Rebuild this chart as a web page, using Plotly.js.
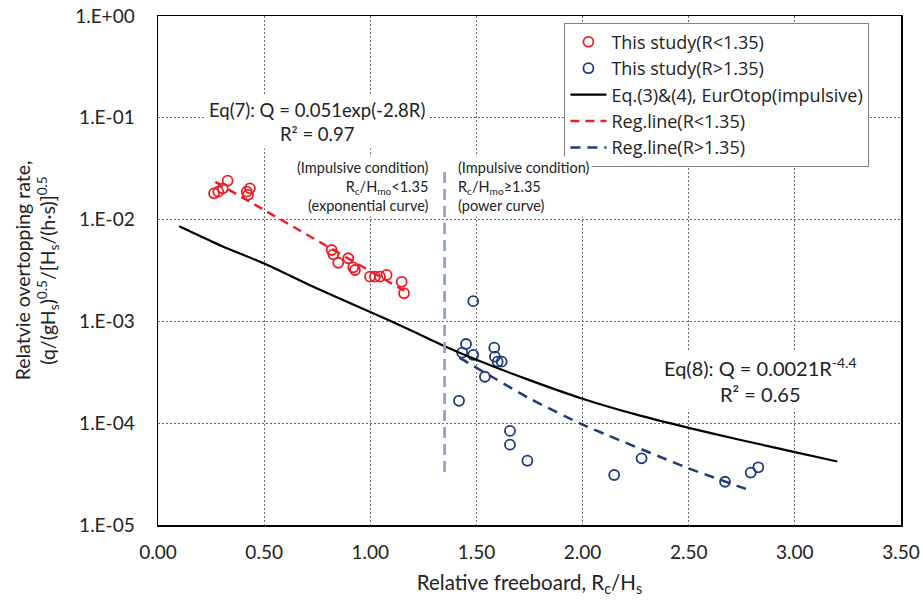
<!DOCTYPE html>
<html><head><meta charset="utf-8">
<script src="https://cdn.plot.ly/plotly-3.0.1.min.js"></script>
<style>html,body{margin:0;padding:0;background:#fff}#chart{width:923px;height:606px}</style>
</head><body><div id="chart"></div>
<script>
// This study, R < 1.35 (red open circles)
const redX = [0.264, 0.284, 0.305, 0.328, 0.418, 0.433, 0.424, 0.818, 0.826, 0.849, 0.896, 0.920, 0.928, 0.999, 1.022, 1.046, 1.077, 1.148, 1.159];
const redY = [0.0181, 0.0188, 0.0203, 0.0241, 0.0188, 0.0203, 0.0175, 0.00503, 0.00456, 0.00377, 0.00417, 0.00340, 0.00320, 0.00275, 0.00275, 0.00275, 0.00286, 0.00245, 0.00189];
// This study, R > 1.35 (navy open circles)
const blueX = [1.485, 1.451, 1.433, 1.485, 1.584, 1.587, 1.600, 1.619, 1.540, 1.418, 1.658, 1.658, 1.740, 2.149, 2.278, 2.671, 2.792, 2.828];
const blueY = [1.58e-3, 6.0e-4, 4.93e-4, 4.68e-4, 5.52e-4, 4.50e-4, 4.02e-4, 4.02e-4, 2.86e-4, 1.66e-4, 8.4e-5, 6.15e-5, 4.28e-5, 3.10e-5, 4.52e-5, 2.66e-5, 3.27e-5, 3.69e-5];
// Eq.(3)&(4), EurOtop (impulsive)
const eurX = [0.1, 0.3, 0.5, 0.75, 1.0, 1.2, 1.35, 1.5, 1.75, 2.0, 2.25, 2.5, 2.75, 3.0, 3.2];
const eurY = [0.0086, 0.0055, 0.0037, 0.0021, 0.00124, 0.00080, 5.7e-4, 4.2e-4, 2.65e-4, 1.74e-4, 1.22e-4, 9.0e-5, 6.8e-5, 5.2e-5, 4.2e-5];
// Regression lines
const regRedX = [0.27, 1.16];
const regRedY = [0.0235, 0.0020];
const regBlueX = [1.42, 1.75, 2.0, 2.5, 2.8];
const regBlueY = [4.4e-4, 1.75e-4, 9.7e-5, 3.6e-5, 2.15e-5];
// Boundary R = 1.35
const boundX = [1.35, 1.35];
const boundY = [0.0294, 3.3e-5];
// Tick labels
const yTickVals = [1, 0.1, 0.01, 0.001, 0.0001, 0.00001];
const yTickText = ["1.E+00", "1.E-01", "1.E-02", "1.E-03", "1.E-04", "1.E-05"];

const FONT = "Lato, 'Open Sans', sans-serif";
const RED = "#EE1C25", NAVY = "#1F3A78";

const traces = [
  {x: redX, y: redY, type: "scatter", mode: "markers", name: "This study(R&lt;1.35)",
   marker: {symbol: "circle-open", size: 10, color: RED, line: {width: 1.8, color: RED}}},
  {x: blueX, y: blueY, type: "scatter", mode: "markers", name: "This study(R&gt;1.35)",
   marker: {symbol: "circle-open", size: 10, color: NAVY, line: {width: 1.8, color: NAVY}}},
  {x: eurX, y: eurY, type: "scatter", mode: "lines", name: "Eq.(3)&amp;(4), EurOtop(impulsive)",
   line: {color: "#000", width: 2.2, shape: "spline", smoothing: 0.6}},
  {x: regRedX, y: regRedY, type: "scatter", mode: "lines", name: "Reg.line(R&lt;1.35)",
   line: {color: RED, width: 2.5, dash: "9px,6px"}},
  {x: regBlueX, y: regBlueY, type: "scatter", mode: "lines", name: "Reg.line(R&gt;1.35)",
   line: {color: NAVY, width: 2.5, dash: "10px,7px", shape: "spline", smoothing: 0.5}},
  {x: boundX, y: boundY, type: "scatter", mode: "lines", showlegend: false, hoverinfo: "skip",
   line: {color: "#8EA3C0", width: 2.7, dash: "11px,6px"}}
];

const layout = {
  width: 923, height: 606,
  margin: {l: 158, r: 22, t: 16, b: 81},
  paper_bgcolor: "#fff", plot_bgcolor: "#fff",
  font: {family: FONT, color: "#222", size: 17},
  showlegend: true,
  legend: {x: 0.547, y: 0.987, xanchor: "left", yanchor: "top",
    bgcolor: "#fff", bordercolor: "#808080", borderwidth: 1,
    font: {family: "'Open Sans', Lato, sans-serif", size: 18, color: "#222"}, tracegroupgap: 0, itemwidth: 36},
  xaxis: {range: [0, 3.5], dtick: 0.5, tick0: 0, tickformat: ".2f",
    showgrid: true, gridcolor: "#666", gridwidth: 1, griddash: "2px,2px",
    showline: true, mirror: true, linecolor: "#000", linewidth: 1.5,
    ticks: "", zeroline: false, ticklabelstandoff: 10,
    tickfont: {family: FONT, size: 19, color: "#222"},
    title: {text: "Relative freeboard, R<sub>c</sub>/H<sub>s</sub>", font: {family: FONT, size: 20.5, color: "#222"}, standoff: 13}},
  yaxis: {type: "log", range: [-5, 0], tickvals: yTickVals, ticktext: yTickText,
    showgrid: true, gridcolor: "#666", gridwidth: 1, griddash: "2px,2px",
    showline: true, mirror: true, linecolor: "#000", linewidth: 1.5,
    ticks: "", zeroline: false, ticklabelstandoff: 18,
    tickfont: {family: FONT, size: 19, color: "#222"},
    title: {text: "Relatvie overtopping rate,<br>(q/(gH<sub>s</sub>)<sup>0.5</sup>/[H<sub>s</sub>/(h·s)]<sup>0.5</sup>", font: {family: FONT, size: 19.5, color: "#222"}, standoff: 14}},
  annotations: [
    {xref: "x", yref: "y", x: 0.75, y: -1.041, text: "Eq(7): Q = 0.051exp(-2.8R)<br>R² = 0.97",
     showarrow: false, align: "center", bgcolor: "#fff", borderpad: 3,
     font: {family: FONT, size: 18.5, color: "#222"}},
    {xref: "x", yref: "y", x: 2.836, y: -3.576, text: "Eq(8): Q = 0.0021R<sup>-4.4</sup><br>R² = 0.65",
     showarrow: false, align: "center", bgcolor: "#fff", borderpad: 3,
     font: {family: FONT, size: 20, color: "#222"}},
    {xref: "x", yref: "y", x: 1.286, y: -1.670, xanchor: "right",
     text: "(Impulsive condition)<br>R<sub>c</sub>/H<sub>mo</sub>&lt;1.35<br>(exponential curve)",
     showarrow: false, align: "right", bgcolor: "#fff", borderpad: 2,
     font: {family: FONT, size: 14.5, color: "#222"}},
    {xref: "x", yref: "y", x: 1.399, y: -1.670, xanchor: "left",
     text: "(Impulsive condition)<br>R<sub>c</sub>/H<sub>mo</sub>≥1.35<br>(power curve)",
     showarrow: false, align: "left", bgcolor: "#fff", borderpad: 2,
     font: {family: FONT, size: 14.5, color: "#222"}}
  ]
};

Plotly.newPlot("chart", traces, layout, {displayModeBar: false, staticPlot: true});
</script>
</body></html>
